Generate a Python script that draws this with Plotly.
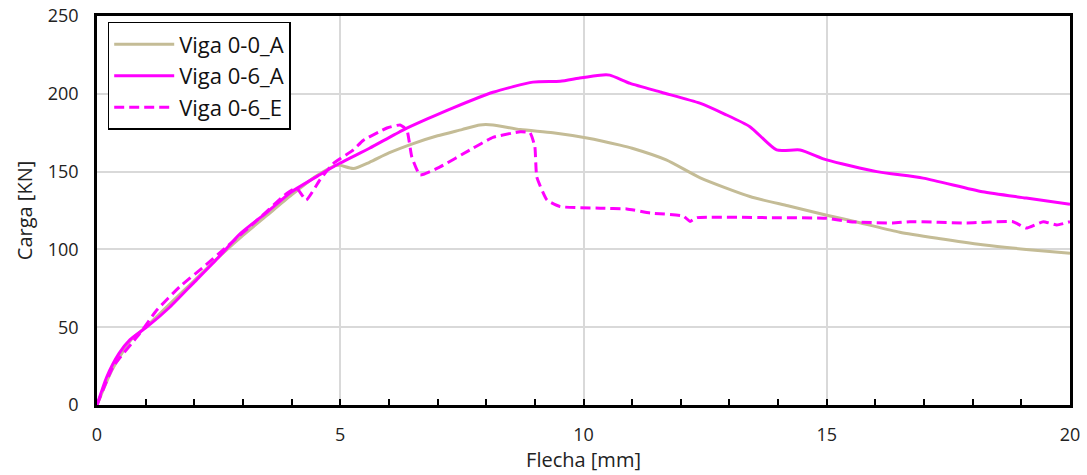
import plotly.graph_objects as go

# Viga 0-0_A (tan)
x_00A = [0, 0.3, 0.7, 1.0, 1.5, 2.0, 2.5, 3.0, 3.5, 4.0, 4.5, 4.9, 5.0, 5.27, 5.6, 6.0, 6.5, 7.0, 7.5, 7.87, 8.14,
         8.7, 9.37, 10.07, 10.75, 11.0, 11.7, 12.4, 13.42, 14.2, 15.0, 15.7, 16.5, 17.3, 18.2, 19.1, 20.0]
y_00A = [0, 22, 42, 50, 65, 80, 95, 109, 122, 135, 147, 154, 154, 152, 156, 162, 168, 173, 177, 180, 180,
         177, 175, 171.6, 167, 165, 157.5, 146, 134, 128, 122, 117, 111, 107, 103, 100, 97.5]

# Viga 0-6_A (solid magenta)
x_06A = [0, 0.2, 0.45, 0.68, 1.02, 1.5, 2.0, 2.5, 2.94, 3.5, 4.0, 4.58, 5.0, 5.6, 6.29, 6.8, 7.32, 8.14, 8.96,
         9.52, 9.9, 10.34, 10.54, 10.96, 11.6, 12.39, 12.9, 13.42, 13.97, 14.45, 15.0, 16.03, 16.98, 18.2, 19.1, 20.0]
y_06A = [0, 18, 33, 42, 50, 63, 79, 95, 110, 124, 137, 148, 155.5, 165, 176.7, 184, 191, 201, 207.5,
         208, 210, 212, 212, 206.7, 201, 194, 187, 178.9, 163.9, 163.9, 157.5, 150, 145.8, 137, 133, 129]

# Viga 0-6_E (dashed magenta)
x_06E = [0, 0.33, 0.88, 1.23, 1.7, 2.2, 2.67, 3.3, 3.9, 4.1, 4.3, 4.58, 4.85, 5.27, 5.47, 5.96, 6.23, 6.37, 6.47,
         6.64, 7.05, 7.67, 8.14, 8.7, 8.9, 9.0, 9.04, 9.25, 9.52, 10.34, 10.89, 11.37, 12.05, 12.19, 12.33, 13.77,
         15.0, 15.48, 16.36, 16.71, 17.88, 18.83, 19.1, 19.45, 19.73, 20.0]
y_06E = [0, 24.6, 46, 61, 76, 89, 101.8, 119, 136, 139.5, 131.7, 144.6, 155, 164, 170, 178, 180, 176.7, 159.5,
         147.8, 153, 164, 172, 175.6, 175, 166, 146.5, 131.7, 127.5, 126.5, 126, 123.4, 121.5, 118, 120.4, 120.4,
         120, 117.8, 117, 117.8, 117, 117.8, 113.7, 117.8, 115.7, 117.8]

x_ticks = [0, 5, 10, 15, 20]
y_ticks = [0, 50, 100, 150, 200, 250]

TAN = "#C4BC96"
MAG = "#FF00FF"

fig = go.Figure()
fig.add_trace(go.Scatter(x=x_00A, y=y_00A, mode="lines", name="Viga 0-0_A",
                         line=dict(color=TAN, width=3, shape="spline", smoothing=0.6)))
fig.add_trace(go.Scatter(x=x_06A, y=y_06A, mode="lines", name="Viga 0-6_A",
                         line=dict(color=MAG, width=3, shape="spline", smoothing=0.6)))
fig.add_trace(go.Scatter(x=x_06E, y=y_06E, mode="lines", name="Viga 0-6_E",
                         line=dict(color=MAG, width=3, dash="10px,5px", shape="spline", smoothing=0.4)))

font_family = "Open Sans, Liberation Sans, sans-serif"

fig.update_layout(
    width=1087, height=475,
    margin=dict(l=97, r=17, t=16, b=70, autoexpand=False),
    paper_bgcolor="white", plot_bgcolor="white",
    font=dict(family=font_family, size=17, color="#222"),
    legend=dict(x=0.011, y=0.985, xanchor="left", yanchor="top",
                bordercolor="black", borderwidth=1.5, bgcolor="white",
                font=dict(size=22, color="#111"), tracegroupgap=0, itemwidth=60),
    showlegend=True,
)
fig.update_xaxes(
    range=[0, 20], tickvals=x_ticks, ticktext=[str(v) for v in x_ticks],
    showgrid=True, gridcolor="#D9D9D9", gridwidth=1.5,
    showline=True, linecolor="black", linewidth=2.5, mirror=True,
    ticks="inside", ticklen=6, tickcolor="black", tickwidth=1.5,
    minor=dict(dtick=1, ticks="inside", ticklen=6, tickcolor="black", tickwidth=1.5, showgrid=False),
    zeroline=False, automargin=False, ticklabelstandoff=12,
    title=dict(text="Flecha [mm]", font=dict(size=20), standoff=6),
    tickfont=dict(size=18),
)
fig.update_yaxes(
    range=[0, 250], tickvals=y_ticks, ticktext=[str(v) for v in y_ticks],
    showgrid=True, gridcolor="#D9D9D9", gridwidth=1.5,
    showline=True, linecolor="black", linewidth=2.5, mirror=True,
    ticks="", zeroline=False, automargin=False, ticklabelstandoff=12,
    title=dict(text="Carga [KN]", font=dict(size=20), standoff=10),
    tickfont=dict(size=18),
)

fig.write_html("out.html", config={"displayModeBar": False},
               post_script="document.body.style.margin='0';")
